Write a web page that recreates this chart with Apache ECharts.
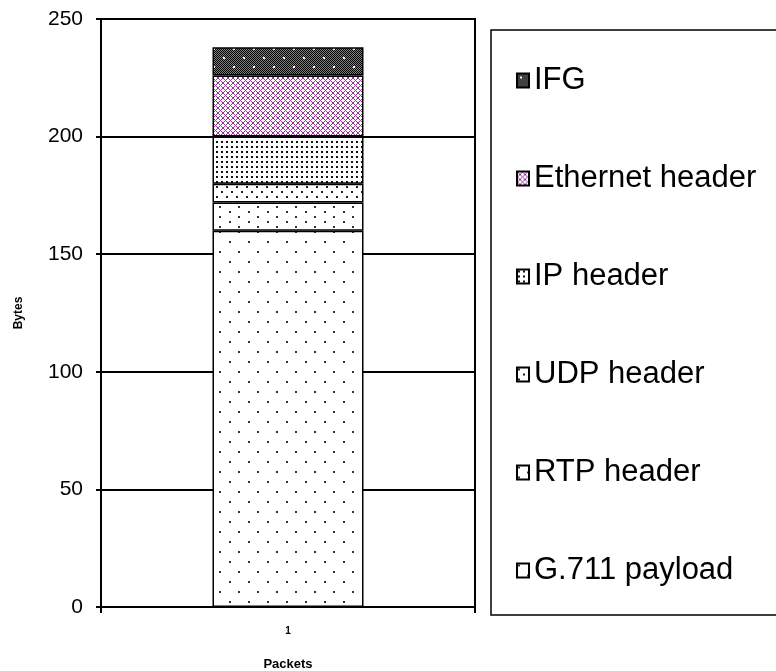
<!DOCTYPE html>
<html><head><meta charset="utf-8">
<script src="https://cdn.jsdelivr.net/npm/echarts@6/dist/echarts.min.js"></script>
<style>html,body{margin:0;padding:0;background:#fff}#c{width:776px;height:671px}</style>
</head><body><div id="c"></div>
<script>
// ---- data ----
const categories = ['1'];
const seriesNames = ['G.711 payload', 'RTP header', 'UDP header', 'IP header', 'Ethernet header', 'IFG'];
const payloadValues = [160];
const rtpValues = [12];
const udpValues = [8];
const ipValues = [20];
const ethernetValues = [26];
const ifgValues = [12];
const yTicks = [0, 50, 100, 150, 200, 250];
const legendOrder = ['IFG', 'Ethernet header', 'IP header', 'UDP header', 'RTP header', 'G.711 payload'];

// ---- patterns ----
function tile(w, h, draw) {
  const c = document.createElement('canvas');
  c.width = w; c.height = h;
  const g = c.getContext('2d');
  g.fillStyle = '#fff'; g.fillRect(0, 0, w, h);
  draw(g, w, h);
  return { image: c, repeat: 'repeat' };
}
function dots(pts, col, s) {
  return function (g) { g.fillStyle = col; pts.forEach(p => g.fillRect(p[0], p[1], s, s)); };
}
const patterns = [
  tile(19, 20, dots([[1, 1], [10, 11]], '#333', 2)),
  tile(19, 10, dots([[1, 1], [10, 6]], '#333', 2)),
  tile(10, 10, dots([[1, 1], [6, 6]], '#222', 2)),
  tile(5, 5, dots([[1, 1]], '#111', 2)),
  tile(5, 5, function (g, w, h) {
    g.fillStyle = '#993399';
    for (let x = 0; x < w; x++) for (let y = 0; y < h; y++) {
      if ((x + y) % 5 === 0 || (((x - y) % 5) + 5) % 5 === 0) g.fillRect(x, y, 1, 1);
    }
  }),
  tile(20, 18, function (g, w, h) {
    g.fillStyle = '#808080'; g.fillRect(0, 0, w, h);
    g.fillStyle = '#000';
    for (let x = 0; x < w; x++) for (let y = 0; y < h; y++) {
      if ((x + y) % 2 === 0) g.fillRect(x, y, 1, 1);
    }
    g.fillStyle = '#fff';
    g.fillRect(3, 3, 2, 2); g.fillRect(13, 12, 2, 2);
  })
];
const valueArrays = [payloadValues, rtpValues, udpValues, ipValues, ethernetValues, ifgValues];

const series = seriesNames.map((n, i) => ({
  name: n,
  type: 'bar',
  stack: 'total',
  barWidth: 151,
  data: valueArrays[i],
  itemStyle: { color: patterns[i], borderColor: '#000', borderWidth: 1.5 },
  emphasis: { disabled: true }
}));

const chart = echarts.init(document.getElementById('c'), null, { renderer: 'canvas' });
chart.setOption({
  animation: false,
  backgroundColor: '#fff',
  grid: { left: 101, right: 301, top: 19, bottom: 64, outerBoundsMode: 'none', containLabel: false, show: true, borderColor: '#000', borderWidth: 2, backgroundColor: 'transparent' },
  legend: {
    data: legendOrder,
    orient: 'vertical',
    left: 491, top: 30,
    padding: [35, 40, 29, 25],
    itemGap: 67,
    itemWidth: 12, itemHeight: 14,
    icon: 'rect',
    selectedMode: false,
    backgroundColor: '#fff',
    borderColor: '#000', borderWidth: 1.5,
    textStyle: { fontSize: 31, lineHeight: 30, fontFamily: '"Liberation Sans", Arial, sans-serif', color: '#000' }
  },
  xAxis: {
    type: 'category',
    data: categories,
    axisLine: { show: true, lineStyle: { color: '#000', width: 2 } },
    axisTick: { show: true, length: 6, lineStyle: { color: '#000', width: 2 } },
    axisLabel: { fontSize: 10, fontWeight: 'bold', color: '#000', margin: 19, fontFamily: 'Arial, sans-serif' },
    name: 'Packets', nameLocation: 'middle', nameGap: 51,
    nameTextStyle: { fontSize: 13, fontWeight: 'bold', color: '#000', fontFamily: 'Arial, sans-serif' }
  },
  yAxis: {
    type: 'value',
    min: yTicks[0], max: yTicks[yTicks.length - 1], interval: yTicks[1] - yTicks[0],
    axisLine: { show: true, lineStyle: { color: '#000', width: 2 } },
    axisTick: { show: true, length: 5, lineStyle: { color: '#000', width: 2 } },
    axisLabel: { fontSize: 21, color: '#000', margin: 18, fontFamily: '"Liberation Sans Narrow", "Liberation Sans", Arial, sans-serif' },
    splitLine: { show: true, lineStyle: { color: '#000', width: 2 } },
    name: 'Bytes', nameLocation: 'middle', nameGap: 76,
    nameTextStyle: { fontSize: 12, fontWeight: 'bold', color: '#000', fontFamily: 'Arial, sans-serif' }
  },
  series: series
});
</script>
</body></html>
